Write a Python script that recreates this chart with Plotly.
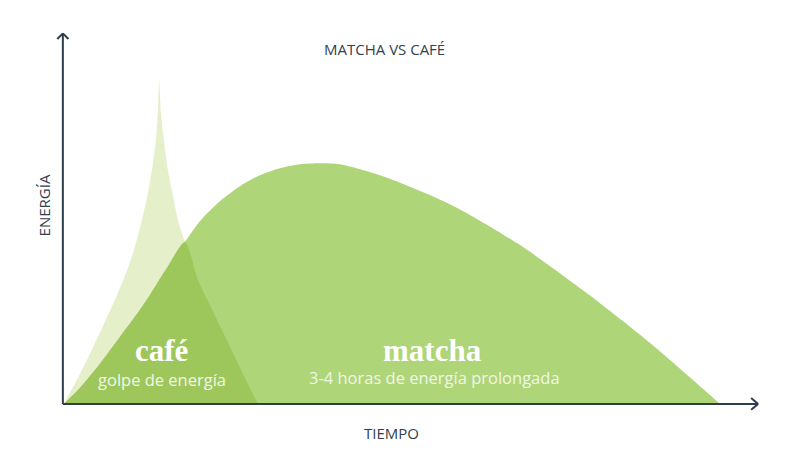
import plotly.graph_objects as go

# tiempo (0-100) y energía (0-100)
cafe_x = [0.14, 2.16, 4.17, 5.90, 7.48, 8.92, 10.22, 11.22, 12.09, 12.81, 13.38,
          13.67, 13.86, 14.10, 14.53, 15.11, 15.83, 16.55, 17.55, 19.42, 21.15,
          22.88, 24.60, 26.33, 28.06]
cafe_y = [0, 7.01, 14.56, 21.56, 28.03, 34.50, 41.51, 48.52, 55.53, 63.07, 71.16,
          78.71, 87.33, 78.71, 71.16, 63.07, 56.33, 49.60, 43.67, 33.42, 26.68,
          19.95, 13.21, 6.47, 0]

matcha_x = [0.14, 2.45, 5.32, 8.20, 11.08, 12.52, 14.96, 17.55, 19.71, 22.59,
            25.47, 28.35, 31.22, 34.10, 36.98, 39.86, 46.04, 55.68, 65.32,
            75.54, 84.46, 94.53]
matcha_y = [0, 4.31, 10.78, 18.06, 25.34, 29.38, 36.66, 43.67, 49.33, 54.72,
            58.76, 61.73, 63.61, 64.69, 64.96, 64.69, 61.46, 53.91, 43.40,
            29.65, 16.44, 0]

# punto donde se cruzan las dos curvas
cruce_x = 17.55

# zona común: matcha hasta el cruce, café después
overlap = [(x, y) for x, y in zip(matcha_x, matcha_y) if x <= cruce_x] + \
          [(x, y) for x, y in zip(cafe_x, cafe_y) if x > cruce_x]
overlap_x = [p[0] for p in overlap]
overlap_y = [p[1] for p in overlap]

CAFE_COLOR = "#e5efc9"
MATCHA_COLOR = "#aed577"
OVERLAP_COLOR = "#9dc75b"
AXIS_COLOR = "#2e3d4c"
TEXT_COLOR = "#333f4d"

fig = go.Figure()

for xs, ys, color in [(cafe_x, cafe_y, CAFE_COLOR),
                      (matcha_x, matcha_y, MATCHA_COLOR),
                      (overlap_x, overlap_y, OVERLAP_COLOR)]:
    fig.add_trace(go.Scatter(
        x=xs, y=ys,
        mode="lines",
        line=dict(width=0, shape="spline", smoothing=0.7),
        fill="tozeroy",
        fillcolor=color,
        hoverinfo="skip",
        showlegend=False,
    ))

# ejes con flechas
axis_line = dict(color=AXIS_COLOR, width=2)
shapes = [
    dict(type="line", x0=0, y0=0, x1=100, y1=0, line=axis_line),
    dict(type="line", x0=0, y0=0, x1=0, y1=100, line=axis_line),
    dict(type="line", x0=-0.8, y0=98.5, x1=0, y1=100, line=axis_line),
    dict(type="line", x0=0.8, y0=98.5, x1=0, y1=100, line=axis_line),
    dict(type="line", x0=99.0, y0=1.6, x1=100, y1=0, line=axis_line),
    dict(type="line", x0=99.0, y0=-1.6, x1=100, y1=0, line=axis_line),
]

sans = "'Open Sans', Lato, sans-serif"
serif = "'Liberation Serif', 'DejaVu Serif', serif"

annotations = [
    dict(x=46.3, y=95.7, text="MATCHA VS CAFÉ", yref="y",
         font=dict(family=sans, size=15, color=TEXT_COLOR)),
    dict(x=-2.7, y=53.6, text="ENERGÍA", textangle=-90, yref="y",
         font=dict(family=sans, size=15, color=TEXT_COLOR)),
    # fuera del rango del eje y, así que en coordenadas de papel
    dict(x=47.3, y=-0.077, text="TIEMPO", yref="paper",
         font=dict(family=sans, size=15, color=TEXT_COLOR)),
    dict(x=14.2, y=14.3, text="<b>café</b>", yref="y",
         font=dict(family=serif, size=31, color="#ffffff")),
    dict(x=14.2, y=6.5, text="golpe de energía", yref="y",
         font=dict(family=sans, size=16.5, color="#f1f7e6")),
    dict(x=53.2, y=14.3, text="<b>matcha</b>", yref="y",
         font=dict(family=serif, size=31, color="#ffffff")),
    dict(x=53.4, y=7.0, text="3-4 horas de energía prolongada", yref="y",
         font=dict(family=sans, size=16.5, color="#f1f7e6")),
]
for a in annotations:
    a.update(xref="x", showarrow=False)

# la página deja 8 px de margen alrededor de la figura
fig.update_layout(
    width=789,
    height=465,
    margin=dict(l=34, r=25, t=18, b=58),
    paper_bgcolor="#ffffff",
    plot_bgcolor="#ffffff",
    xaxis=dict(range=[-3, 102], visible=False, fixedrange=True),
    yaxis=dict(range=[-3, 102], visible=False, fixedrange=True),
    shapes=shapes,
    annotations=annotations,
)

fig.write_html("out.html")
